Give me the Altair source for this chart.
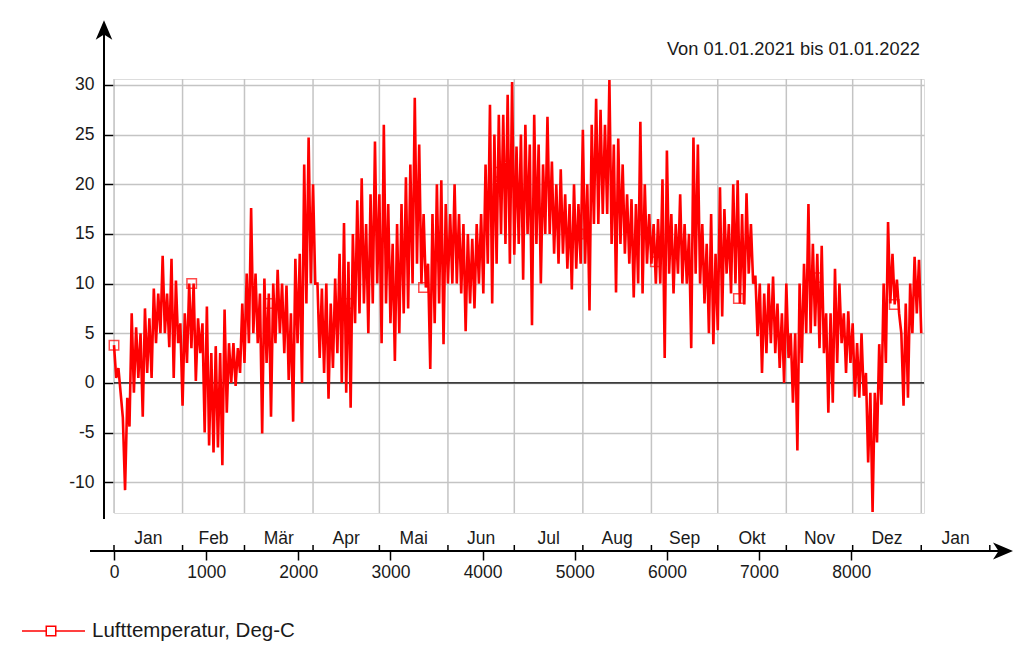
import altair as alt
import pandas as pd

# Readings every 48 h: a high at the start of each step, a low 24 h later
highs = [3.8, 1.5, -3.5, -1.5, 7.0, 5.6, 5.0, 7.5, 6.5, 9.5, 9.0, 12.8, 9.0, 12.5, 10.3, 6.0,
         7.0, 10.0, 10.0, 6.5, 6.0, 7.7, 3.0, 3.7, 3.0, 7.4, 4.0, 4.0, 3.5, 8.0,
         11.0, 17.6, 11.0, 9.0, 10.5, 9.0, 10.0, 11.4, 10.0, 9.8, 7.0, 12.5, 13.0, 22.0, 24.7,
         20.0, 10.0, 9.5, 10.0, 8.0, 10.5, 13.0, 16.1, 12.2, 15.0, 18.4, 20.6, 16.0, 19.0, 24.3,
         19.0, 26.0, 18.0, 14.0, 16.0, 18.0, 20.7, 22.0, 28.7, 24.0, 17.0, 12.0, 17.0, 20.0, 20.4, 18.0,
         17.0, 20.0, 17.0, 16.0, 15.0, 14.5, 16.0, 17.0, 22.0, 28.0, 25.0, 27.0, 27.0, 29.0, 30.3,
         23.8, 25.0, 26.0, 24.0, 27.0, 24.0, 22.0, 26.8, 22.3, 20.0, 21.5, 19.0, 18.0, 20.0, 18.0,
         25.5, 20.0, 26.0, 28.6, 27.5, 26.0, 30.5, 24.0, 24.6, 22.0, 19.0, 18.5, 18.0, 26.3, 20.0, 17.0,
         16.0, 16.5, 20.5, 23.4, 17.0, 16.0, 19.0, 16.0, 15.0, 24.7, 24.0, 16.0, 14.0, 17.0, 13.0,
         19.7, 17.5, 16.0, 20.0, 20.4, 17.0, 19.1, 16.0, 10.8, 10.0, 9.0, 10.0, 10.7, 8.0, 7.0,
         10.0, 5.0, 5.0, 10.0, 12.0, 18.0, 14.0, 13.0, 13.8, 7.0, 7.0, 11.5, 10.0, 7.0, 7.2,
         6.0, 4.0, 5.0, 1.0, -1.0, -1.0, 3.9, 10.0, 16.2, 13.0, 10.4, 5.0, 8.0, 10.0, 12.7, 12.4]
lows = [0.5, -1.0, -10.8, -4.4, -1.0, 0.5, -3.4, 1.0, 0.5, 4.0, 5.0, 5.0, 3.6, 0.5, 4.0, -2.3,
        2.0, 3.5, 0.2, 3.0, -5.0, -6.3, -7.0, -6.5, -8.3, -3.0, 0.0, -0.3, 1.0, 2.0,
        4.0, 5.0, 4.0, -5.1, 2.0, -3.4, 4.0, 5.0, 3.0, 0.3, -3.9, 4.0, 0.0, 8.0, 10.0,
        10.0, 2.5, 1.0, -1.6, 1.5, 3.0, 0.0, -1.0, -2.5, 6.0, 7.0, 8.0, 5.0, 8.0, 10.0,
        4.0, 8.0, 6.0, 2.2, 5.0, 7.0, 7.5, 10.0, 12.0, 10.0, 9.6, 1.4, 6.0, 8.0, 3.9, 10.0,
        10.0, 10.0, 9.0, 5.2, 8.0, 7.5, 10.0, 9.0, 12.0, 8.0, 12.0, 15.0, 14.0, 12.0, 12.9,
        14.0, 10.4, 15.0, 5.8, 14.0, 10.0, 15.0, 15.0, 13.0, 12.0, 13.0, 11.5, 9.4, 11.5, 12.0,
        12.0, 7.3, 16.0, 16.0, 17.0, 17.0, 14.0, 9.1, 14.0, 13.0, 12.0, 8.6, 10.0, 9.0, 12.0, 12.0,
        10.0, 10.0, 2.5, 11.0, 9.0, 11.0, 10.0, 10.0, 3.5, 11.0, 10.0, 8.0, 5.0, 3.9, 5.3,
        6.7, 11.0, 9.0, 10.0, 8.0, 7.9, 11.0, 10.0, 4.7, 1.0, 3.0, 4.0, 3.0, 1.5, 0.0,
        2.5, -2.0, -6.8, 2.0, 5.0, 5.0, 5.7, 3.5, 3.0, -3.0, -2.0, 2.0, 4.0, 1.0, 2.0,
        -1.4, -1.5, -1.3, -8.0, -13.0, -6.0, -2.2, 2.0, 8.0, 7.9, 7.0, -2.3, -1.5, 5.0, 7.0, 5.0]
step_hours = 48

marker_hours = [0, 843, 1690, 2535, 3359, 4184, 5040, 5875, 6776, 7621, 8467]
marker_vals = [3.8, 10.0, 8.0, 8.0, 9.6, 21.2, 15.0, 12.2, 8.5, 10.6, 7.9]

month_names = ["Jan", "Feb", "Mär", "Apr", "Mai", "Jun", "Jul", "Aug", "Sep", "Okt", "Nov", "Dez", "Jan"]
month_starts = [0, 744, 1416, 2160, 2880, 3624, 4344, 5088, 5832, 6552, 7296, 8016, 8760, 9504]
y_ticks = [-10, -5, 0, 5, 10, 15, 20, 25, 30]
x_ticks = [0, 1000, 2000, 3000, 4000, 5000, 6000, 7000, 8000]

title_text = "Von 01.01.2021 bis 01.01.2022"
legend_text = "Lufttemperatur, Deg-C"

FONT = "Liberation Sans"
RED = "#ff0000"
GRID = "#c4c4c4"
W, H = 810, 434

rows = []
for i, (hi, lo) in enumerate(zip(highs, lows)):
    rows.append({"h": i * step_hours, "v": hi})
    rows.append({"h": i * step_hours + step_hours // 2, "v": lo})
series = pd.DataFrame(rows)
markers = pd.DataFrame({"h": marker_hours, "v": marker_vals})
grid_df = pd.DataFrame({"h": month_starts[:13]})
mticks = pd.DataFrame({"h": month_starts})
mlabels = pd.DataFrame({
    "mid": [(month_starts[i] + month_starts[i + 1]) / 2 for i in range(13)],
    "name": month_names,
})
one = pd.DataFrame({"a": [0]})

xs = alt.Scale(domain=[0, 8790], nice=False, zero=False)
ys = alt.Scale(domain=[-13.1, 30.6], nice=False, zero=False)

xaxis = alt.Axis(values=x_ticks, offset=38, domain=False, grid=False, ticks=True,
                 tickColor="black", tickSize=9, tickWidth=1.5, labelFont=FONT,
                 labelFontSize=17.5, labelColor="#1a1a1a", labelPadding=3,
                 labelExpr="'' + datum.value", title=None, labelFlush=False)
yaxis = alt.Axis(values=y_ticks, domain=False, grid=True, gridColor=GRID, gridWidth=1.5,
                 ticks=True, tickColor="black", tickSize=10, tickWidth=1.5,
                 labelFont=FONT, labelFontSize=17.5, labelColor="#1a1a1a", labelPadding=10,
                 labelExpr="'' + datum.value", title=None)

vgrid = alt.Chart(grid_df).mark_rule(color=GRID, strokeWidth=1.5).encode(
    x=alt.X("h:Q", scale=xs, axis=xaxis))
hgrid = alt.Chart(one).mark_rule(opacity=0).encode(
    y=alt.Y("a:Q", scale=ys, axis=yaxis))
zero = alt.Chart(one).mark_rule(color="black", strokeWidth=1.3).encode(
    y=alt.datum(0, scale=ys))
line = alt.Chart(series).mark_line(color=RED, strokeWidth=2.6, strokeJoin="miter",
                                   strokeMiterLimit=2).encode(
    x=alt.X("h:Q", scale=xs), y=alt.Y("v:Q", scale=ys))
pts = alt.Chart(markers).mark_point(shape="square", filled=False, color=RED,
                                    size=90, strokeWidth=1.5).encode(
    x=alt.X("h:Q", scale=xs), y=alt.Y("v:Q", scale=ys))

# y axis line + arrow
yline = alt.Chart(one).mark_rule(color="black", strokeWidth=2).encode(
    x=alt.value(-10), y=alt.value(-56), y2=alt.value(440))
yarrow = alt.Chart(one).mark_point(shape="M0,-1L-0.85,1L0,0.45L0.85,1Z", filled=True,
                                   color="black", size=380, opacity=1).encode(
    x=alt.value(-10), y=alt.value(-49))
# x axis line + arrow
xline = alt.Chart(one).mark_rule(color="black", strokeWidth=2).encode(
    x=alt.value(-24), x2=alt.value(895), y=alt.value(472))
xarrow = alt.Chart(one).mark_point(shape="M1,0L-1,-0.85L-0.45,0L-1,0.85Z", filled=True,
                                   color="black", size=400, opacity=1).encode(
    x=alt.value(889), y=alt.value(472))
mtick = alt.Chart(mticks).mark_rule(color="black", strokeWidth=1.5).encode(
    x=alt.X("h:Q", scale=xs), y=alt.value(466), y2=alt.value(472))
mlab = alt.Chart(mlabels).mark_text(font=FONT, fontSize=17.5, color="#1a1a1a",
                                    baseline="middle", align="center").encode(
    x=alt.X("mid:Q", scale=xs), y=alt.value(460), text="name:N")

title = alt.Chart(one).mark_text(text=title_text, font=FONT, fontSize=18.3, color="#1a1a1a",
                                 align="right", baseline="middle").encode(
    x=alt.value(806), y=alt.value(-29))
leg_line = alt.Chart(one).mark_rule(color=RED, strokeWidth=1.5).encode(
    x=alt.value(-92), x2=alt.value(-29), y=alt.value(552))
leg_pt = alt.Chart(one).mark_point(shape="square", filled=True, fill="white", stroke=RED,
                                   size=90, strokeWidth=1.5, opacity=1).encode(
    x=alt.value(-63), y=alt.value(552))
leg_txt = alt.Chart(one).mark_text(text=legend_text, font=FONT, fontSize=20.5, color="#1a1a1a",
                                   align="left", baseline="middle").encode(
    x=alt.value(-22), y=alt.value(552))

chart = alt.layer(vgrid, hgrid, zero, line, pts, yline, yarrow, xline, xarrow, mtick, mlab,
                  title, leg_line, leg_pt, leg_txt).properties(
    width=W, height=H,
    padding={"left": 106, "top": 71, "right": 92, "bottom": 131},
    autosize=alt.AutoSizeParams(type="none"),
).configure_view(stroke=GRID, strokeWidth=2).configure(background="white")

chart.save("out.html", embed_options={"renderer": "svg", "actions": False})
